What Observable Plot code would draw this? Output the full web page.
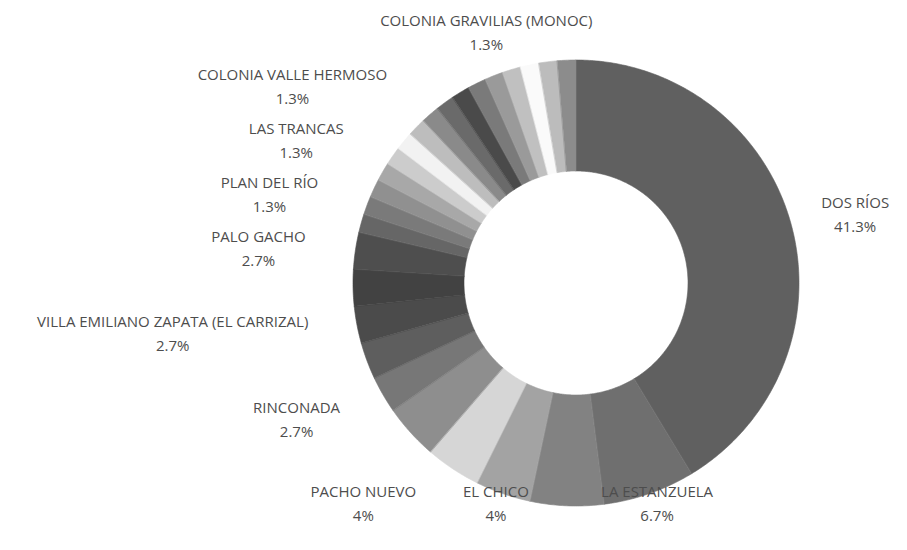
<!DOCTYPE html>
<html><head><meta charset="utf-8">
<script src="https://cdn.jsdelivr.net/npm/d3@7"></script>
<script src="https://cdn.jsdelivr.net/npm/@observablehq/plot@0.6"></script>
<style>html,body{margin:0;padding:0;background:#fff}</style>
</head><body><div id="chart"></div>
<script>
// ---- data ----
const names = ["DOS RÍOS","LA ESTANZUELA","","EL CHICO","PACHO NUEVO","","RINCONADA","","VILLA EMILIANO ZAPATA (EL CARRIZAL)","","PALO GACHO","","PLAN DEL RÍO","","LAS TRANCAS","","","COLONIA VALLE HERMOSO","","","","","COLONIA GRAVILIAS (MONOC)","","","",""];
const counts = [31,5,4,3,3,3,2,2,2,2,2,1,1,1,1,1,1,1,1,1,1,1,1,1,1,1,1];
const pctLabels = ["41.3%","6.7%","5.3%","4%","4%","4%","2.7%","2.7%","2.7%","2.7%","2.7%","1.3%","1.3%","1.3%","1.3%","1.3%","1.3%","1.3%","1.3%","1.3%","1.3%","1.3%","1.3%","1.3%","1.3%","1.3%","1.3%"];
const grays = ["#606060","#6f6f6f","#828282","#a3a3a3","#d6d6d6","#8e8e8e","#777777","#5e5e5e","#4b4b4b","#424242","#4e4e4e","#666666","#7a7a7a","#909090","#a8a8a8","#cccccc","#f2f2f2","#bdbdbd","#8a8a8a","#6a6a6a","#4a4a4a","#7a7a7a","#9a9a9a","#c0c0c0","#fafafa","#bcbcbc","#8c8c8c"];

// ---- layout ----
const W = 907, H = 550;
const cx = 576, cy = 283, R = 223, r0 = 112;
const fontSize = 15, lineH = 1.6, fontFamily = "'Open Sans', sans-serif";

const total = d3.sum(counts);
const angle = d3.scaleLinear().domain([0, total]).range([0, 2 * Math.PI]);
const cum = d3.cumsum(counts);

const arcRows = [];
counts.forEach((c, i) => {
  const a0 = angle(cum[i] - c), a1 = angle(cum[i]);
  const n = Math.max(2, Math.ceil((a1 - a0) / 0.01));
  for (let k = 0; k <= n; k++) {
    const a = a0 + (a1 - a0) * k / n;
    const s = Math.sin(a), co = Math.cos(a);
    arcRows.push({slice: i, color: grays[i],
      xo: cx + R * s, yo: cy - R * co,
      xi: cx + r0 * s, yi: cy - r0 * co});
  }
});

// text measurement with the real rendered font
const NS = "http://www.w3.org/2000/svg";
const msvg = document.createElementNS(NS, "svg");
msvg.setAttribute("style", "position:absolute;left:-9999px;top:0");
const mtext = document.createElementNS(NS, "text");
mtext.setAttribute("font-family", fontFamily);
mtext.setAttribute("font-size", fontSize);
msvg.appendChild(mtext);
document.body.appendChild(msvg);
const measure = (s) => { mtext.textContent = s; return mtext.getComputedTextLength(); };

// label layout: natural point on a circle at the slice centroid
const Rl = 273, Rr = 254, Rc = 245, blockH = 40, topLim = 13, botLim = 524, leftLim = 8, rightLim = W - 8, minGap = 54, yShift = -3;
const labs = [];
counts.forEach((c, i) => {
  if (!names[i]) return;
  const a = angle(cum[i] - c / 2);
  const s = Math.sin(a), co = -Math.cos(a);
  const w = Math.max(measure(names[i]), measure(pctLabels[i]));
  const side = Math.abs(s) < 0.45 ? 0 : (s < 0 ? -1 : 1);
  const rad = side === 1 ? Rr : Rl;
  labs.push({i, w, side, rad, nx: cx + (side === 0 ? Rc : rad) * s, y: cy + rad * co, text: names[i] + "\n" + pctLabels[i]});
});
document.body.removeChild(msvg);
// spread side labels vertically
for (const sd of [-1, 1]) {
  const g = labs.filter(d => d.side === sd).sort((a, b) => a.y - b.y);
  for (let it = 0; it < 100; it++) {
    for (let k = 1; k < g.length; k++) {
      const gap = g[k].y - g[k - 1].y;
      if (gap < minGap) { const m = (minGap - gap) / 2; g[k].y += m; g[k - 1].y -= m; }
    }
  }
}
const labelRows = labs.map(d => {
  const y = Math.min(Math.max(d.y, topLim + blockH / 2), botLim - blockH / 2);
  let x;
  if (d.side === 0) x = d.nx;
  else {
    const dy = y - cy;
    const ex = cx + d.side * Math.sqrt(Math.max(0, d.rad * d.rad - dy * dy));
    x = ex + d.side * d.w / 2;
  }
  x = Math.min(Math.max(x, leftLim + d.w / 2), rightLim - d.w / 2);
  return {x, y: y + yShift, text: d.text};
});

const chart = Plot.plot({
  width: W, height: H,
  margin: 0,
  x: {domain: [0, W], range: [0, W], axis: null},
  y: {domain: [0, H], range: [0, H], axis: null},
  color: {type: "identity"},
  style: {background: "#fff"},
  marks: [
    Plot.area(arcRows, {x1: "xo", y1: "yo", x2: "xi", y2: "yi", z: "slice", fill: "color", stroke: "color", strokeWidth: 0.6, curve: "linear"}),
    Plot.text(labelRows, {x: "x", y: "y", text: "text", textAnchor: "middle", lineAnchor: "middle", lineHeight: lineH, fontSize, fontFamily, fill: "#4d4d4d"})
  ]
});
document.getElementById("chart").appendChild(chart);
</script>
</body></html>
